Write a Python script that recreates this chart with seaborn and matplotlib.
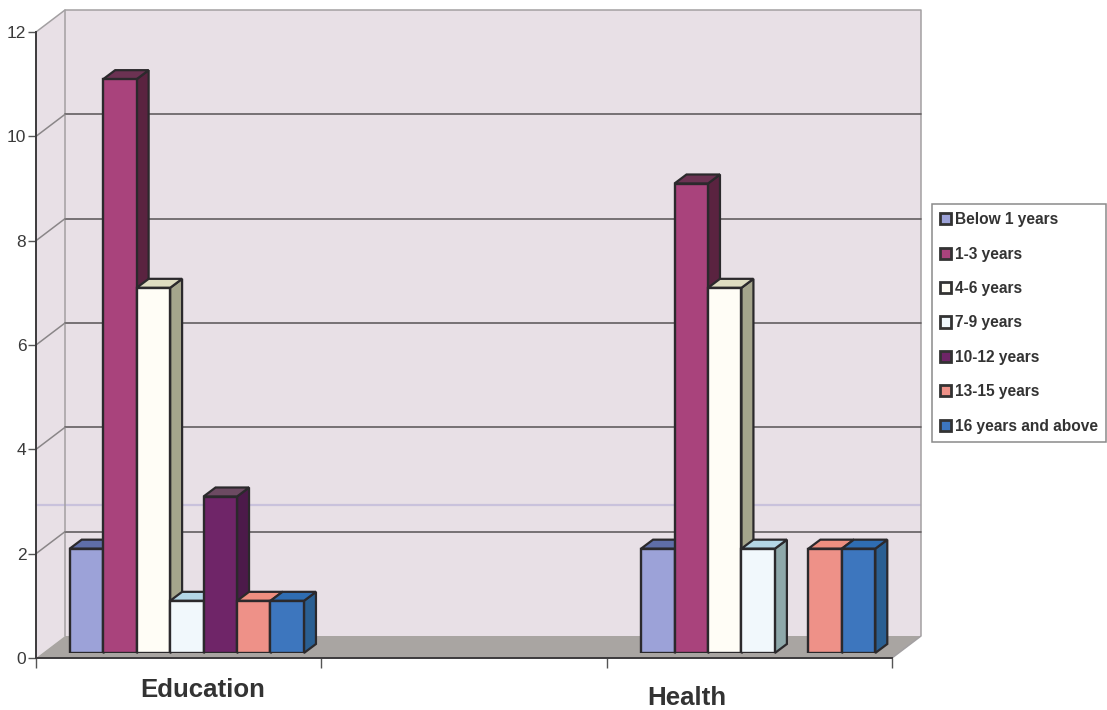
import matplotlib
matplotlib.use("Agg")
import matplotlib.pyplot as plt
from matplotlib.patches import Polygon, Patch
from matplotlib.transforms import IdentityTransform
import numpy as np
import pandas as pd
import seaborn as sns

# Survey counts by length of service
sectors = ["Education", " ", "Health"]
tenure = ["Below 1 years", "1-3 years", "4-6 years", "7-9 years",
          "10-12 years", "13-15 years", "16 years and above"]
education = [2, 11, 7, 1, 3, 1, 1]
health = [2, 9, 7, 2, 0, 2, 2]

front_colors = ["#9ca2d8", "#a9437c", "#fffdf6", "#f1f8fc", "#6f2568", "#ee9188", "#3d76be"]
side_colors = ["#5d638f", "#5a2340", "#a5a58c", "#8ea8aa", "#4c1a4a", "#a0605a", "#2a5f92"]
top_colors = ["#5f6ea8", "#6b3252", "#dedcc0", "#b4d6e6", "#6c4a62", "#ee8f80", "#2f6db2"]

WALL = "#e8e0e6"
FLOOR = "#a9a5a2"
GRID = "#625e60"
EDGE = "#2b292c"
TEXT = "#3a3a3a"

W, H = 1107, 710
sns.set_theme(style="white", rc={"font.family": ["Liberation Sans", "DejaVu Sans"]})

rows = [(s, t, v) for s, vals in (("Education", education), ("Health", health))
        for t, v in zip(tenure, vals) if v > 0]
df = pd.DataFrame(rows, columns=["sector", "tenure", "count"])

fig = plt.figure(figsize=(W / 100, H / 100), dpi=100, facecolor="white")


def frame(left, right, bottom, top):
    """Axes box given as pixel edges measured from the top-left corner."""
    return [left / W, (H - bottom) / H, (right - left) / W, (bottom - top) / H]


# Front plane carries the value axis, the category ticks and the walls
ax_front = fig.add_axes(frame(36, 892, 658, 32), zorder=0)
# Bars stand on a plane slightly behind the front edge of the floor
ax = fig.add_axes(frame(44, 901, 653, 27), zorder=1)

palette = dict(zip(tenure, front_colors))
sns.barplot(data=df, x="sector", y="count", hue="tenure", order=sectors, hue_order=tenure,
            palette=palette, width=0.82, gap=0, saturation=1, dodge=True,
            edgecolor=EDGE, linewidth=1.7, legend=False, ax=ax)

for a in (ax, ax_front):
    a.set_xlim(-0.5, 2.5)
    a.set_ylim(0, 12)
ax.set_axis_off()
ax.patch.set_alpha(0)
ax_front.patch.set_alpha(0)

# Chart depth in display pixels
BACK_DX, BACK_DY = 29, 22
BAR_DX, BAR_DY = 12, 9


def front_px(x, y):
    return ax_front.transData.transform((x, y))


def add_poly(points, **kw):
    ax_front.add_patch(Polygon(points, closed=True, transform=IdentityTransform(),
                               clip_on=False, **kw))


back = np.array([BACK_DX, BACK_DY])
bl, tl = front_px(-0.5, 0), front_px(-0.5, 12)
br, tr = front_px(2.5, 0), front_px(2.5, 12)

# Walls and floor
add_poly([bl, tl, tl + back, bl + back], facecolor=WALL, edgecolor="none", zorder=1)
add_poly([bl + back, tl + back, tr + back, br + back], facecolor=WALL, edgecolor="none", zorder=1)
add_poly([bl, br, br + back, bl + back], facecolor=FLOOR, edgecolor="none", zorder=2)
ax_front.plot(*np.array([tl, tl + back, tr + back, br + back, br]).T, transform=IdentityTransform(),
              color="#a3a0a2", lw=1.1, clip_on=False, zorder=3)
ax_front.plot(*np.array([bl + back, tl + back]).T, transform=IdentityTransform(),
              color="#a3a0a2", lw=1.1, clip_on=False, zorder=3)

# Gridlines run along the back wall and fold forward along the side wall
yticks = list(range(0, 13, 2))
for v in yticks[1:-1]:
    p = front_px(-0.5, v)
    q = front_px(2.5, v)
    ax_front.plot(*np.array([p + back, q + back]).T, transform=IdentityTransform(),
                  color=GRID, lw=1.2, clip_on=False, zorder=3)
    ax_front.plot(*np.array([p, p + back]).T, transform=IdentityTransform(),
                  color="#8a8688", lw=1.1, clip_on=False, zorder=3)

# Faint lavender band across the walls
ax_front.axhline(2.93, xmin=0, xmax=1.033, color="#c9c2dc", lw=1.6, zorder=1.5, clip_on=False)

# Value axis and category ticks
ax_front.set_yticks(yticks)
ax_front.set_xticks([-0.5, 0.5, 1.5, 2.5])
ax_front.set_xticklabels([])
ax_front.set_xlabel("")
ax_front.set_ylabel("")
ax_front.tick_params(axis="y", length=6, width=1, color="#555555", labelcolor=TEXT,
                     labelsize=12.5, pad=1, left=True)
ax_front.tick_params(axis="x", length=7, width=1, color="#555555", bottom=True)
for name, spine in ax_front.spines.items():
    spine.set_visible(name in ("left", "bottom"))
    spine.set_color("#3c3a3c")
    spine.set_linewidth(1.4)
    spine.set_zorder(4)

# Category names sit off-centre under their groups
for name, i, dx, dy in (("Education", 0, 24, -32), ("Health", 2, -63, -40)):
    ax_front.annotate(name, xy=(i, 0), xycoords="data", xytext=(dx, dy),
                      textcoords="offset pixels", ha="center", va="center",
                      fontsize=18.6, fontweight="bold", color="#333333", annotation_clip=False)

# Extrude every bar with a shaded side and top, drawn left to right
depth = np.array([BAR_DX, BAR_DY])
bars = [b for b in ax.patches if b.get_height() > 0]
bars.sort(key=lambda b: b.get_x())
colour_index = {matplotlib.colors.to_hex(c): i for i, c in enumerate(front_colors)}
for n, bar in enumerate(bars):
    x0, w, h = bar.get_x(), bar.get_width(), bar.get_height()
    idx = colour_index[matplotlib.colors.to_hex(bar.get_facecolor())]
    lo_r = ax.transData.transform((x0 + w, 0))
    hi_r = ax.transData.transform((x0 + w, h))
    hi_l = ax.transData.transform((x0, h))
    z = 10 + n * 2
    ax.add_patch(Polygon([lo_r, hi_r, hi_r + depth, lo_r + depth], closed=True,
                         transform=IdentityTransform(), facecolor=side_colors[idx],
                         edgecolor=EDGE, lw=1.6, clip_on=False, zorder=z))
    ax.add_patch(Polygon([hi_l, hi_r, hi_r + depth, hi_l + depth], closed=True,
                         transform=IdentityTransform(), facecolor=top_colors[idx],
                         edgecolor=EDGE, lw=1.6, clip_on=False, zorder=z))
    bar.set_zorder(z + 1)

# Legend box
handles = [Patch(facecolor=c, edgecolor="#333333", linewidth=2) for c in front_colors]
leg = fig.legend(handles, tenure, loc="upper left", bbox_to_anchor=(932 / W, (H - 204) / H),
                 frameon=True, fancybox=False, framealpha=1, edgecolor="#8a8a8a",
                 prop={"weight": "bold", "size": 11.2, "family": "Liberation Sans"},
                 labelcolor="#333333", handlelength=0.72, handleheight=0.72, handletextpad=0.22,
                 labelspacing=1.25, borderpad=0.52, borderaxespad=0)
leg.get_frame().set_linewidth(1.1)

fig.savefig("out.png", dpi=100, facecolor="white")
